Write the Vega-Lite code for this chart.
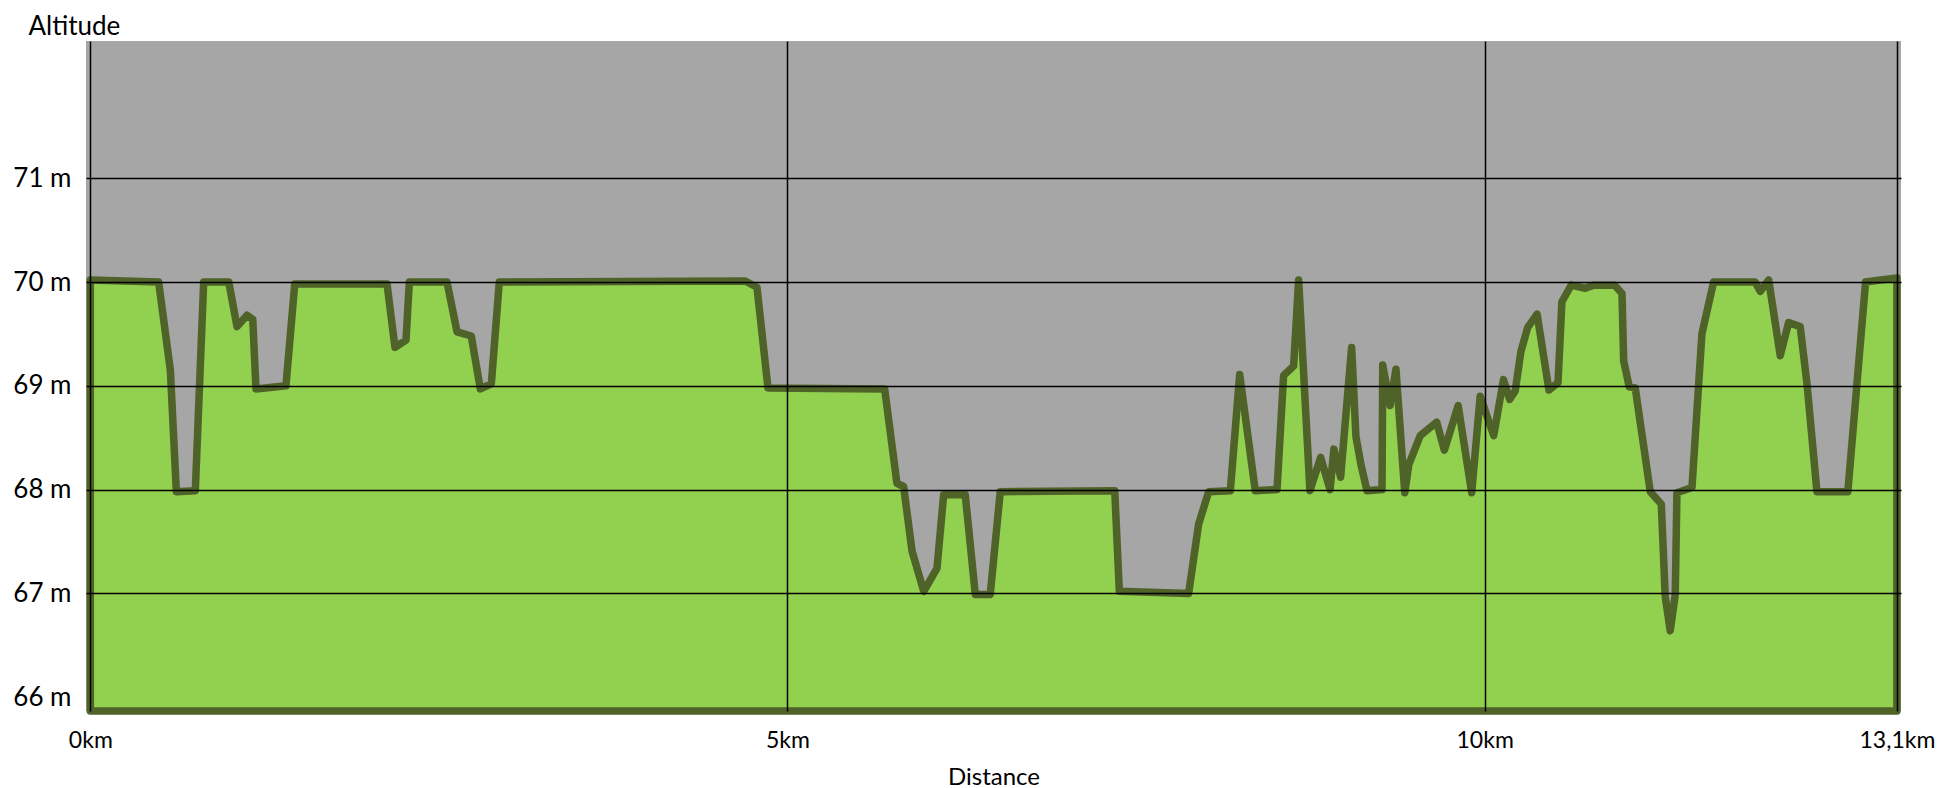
{
  "$schema": "https://vega.github.io/schema/vega-lite/v6.json",
  "autosize": "none",
  "width": 1815,
  "height": 670,
  "padding": {"left": 86, "top": 41, "right": 45, "bottom": 77},
  "background": "#ffffff",
  "config": {
    "font": "Lato",
    "view": {"fill": "#a6a6a6", "stroke": null}
  },
  "data": {
    "values": [
      {"km": 0, "alt": 70.02},
      {"km": 0.49, "alt": 70.0},
      {"km": 0.574, "alt": 69.15},
      {"km": 0.617, "alt": 67.98},
      {"km": 0.753, "alt": 67.99},
      {"km": 0.813, "alt": 70.0},
      {"km": 0.993, "alt": 70.0},
      {"km": 1.052, "alt": 69.57},
      {"km": 1.124, "alt": 69.68},
      {"km": 1.165, "alt": 69.64},
      {"km": 1.188, "alt": 68.97},
      {"km": 1.403, "alt": 69.0},
      {"km": 1.466, "alt": 69.98},
      {"km": 2.128, "alt": 69.98},
      {"km": 2.185, "alt": 69.37},
      {"km": 2.264, "alt": 69.44},
      {"km": 2.288, "alt": 70.0},
      {"km": 2.558, "alt": 70.0},
      {"km": 2.63, "alt": 69.52},
      {"km": 2.732, "alt": 69.48},
      {"km": 2.797, "alt": 68.97},
      {"km": 2.876, "alt": 69.02},
      {"km": 2.933, "alt": 70.0},
      {"km": 4.697, "alt": 70.01},
      {"km": 4.781, "alt": 69.95},
      {"km": 4.86, "alt": 68.98},
      {"km": 5.697, "alt": 68.97},
      {"km": 5.785, "alt": 68.06},
      {"km": 5.833, "alt": 68.03},
      {"km": 5.893, "alt": 67.41},
      {"km": 5.977, "alt": 67.02},
      {"km": 6.072, "alt": 67.24},
      {"km": 6.12, "alt": 67.95},
      {"km": 6.275, "alt": 67.95},
      {"km": 6.347, "alt": 66.99},
      {"km": 6.454, "alt": 66.99},
      {"km": 6.526, "alt": 67.98},
      {"km": 7.347, "alt": 67.99},
      {"km": 7.38, "alt": 67.02},
      {"km": 7.877, "alt": 67.0},
      {"km": 7.949, "alt": 67.67},
      {"km": 8.021, "alt": 67.98},
      {"km": 8.176, "alt": 67.99},
      {"km": 8.243, "alt": 69.11},
      {"km": 8.355, "alt": 67.99},
      {"km": 8.511, "alt": 68.0},
      {"km": 8.558, "alt": 69.1},
      {"km": 8.63, "alt": 69.19},
      {"km": 8.666, "alt": 70.02},
      {"km": 8.747, "alt": 67.99},
      {"km": 8.824, "alt": 68.31},
      {"km": 8.891, "alt": 68.0},
      {"km": 8.919, "alt": 68.39},
      {"km": 8.967, "alt": 68.12},
      {"km": 9.046, "alt": 69.37},
      {"km": 9.077, "alt": 68.51},
      {"km": 9.113, "alt": 68.24},
      {"km": 9.156, "alt": 67.99},
      {"km": 9.264, "alt": 68.0},
      {"km": 9.269, "alt": 69.2},
      {"km": 9.322, "alt": 68.81},
      {"km": 9.364, "alt": 69.16},
      {"km": 9.427, "alt": 67.97},
      {"km": 9.456, "alt": 68.24},
      {"km": 9.538, "alt": 68.52},
      {"km": 9.656, "alt": 68.65},
      {"km": 9.711, "alt": 68.38},
      {"km": 9.81, "alt": 68.81},
      {"km": 9.907, "alt": 67.97},
      {"km": 9.968, "alt": 68.9},
      {"km": 10.065, "alt": 68.52},
      {"km": 10.135, "alt": 69.06},
      {"km": 10.179, "alt": 68.87},
      {"km": 10.219, "alt": 68.95},
      {"km": 10.26, "alt": 69.33},
      {"km": 10.308, "alt": 69.56},
      {"km": 10.376, "alt": 69.69},
      {"km": 10.461, "alt": 68.96},
      {"km": 10.526, "alt": 69.03},
      {"km": 10.554, "alt": 69.81},
      {"km": 10.621, "alt": 69.97},
      {"km": 10.721, "alt": 69.94},
      {"km": 10.782, "alt": 69.97},
      {"km": 10.932, "alt": 69.97},
      {"km": 10.985, "alt": 69.89},
      {"km": 10.997, "alt": 69.24},
      {"km": 11.037, "alt": 68.99},
      {"km": 11.08, "alt": 68.98},
      {"km": 11.188, "alt": 67.98},
      {"km": 11.267, "alt": 67.86},
      {"km": 11.295, "alt": 66.97},
      {"km": 11.331, "alt": 66.64},
      {"km": 11.367, "alt": 66.99},
      {"km": 11.379, "alt": 67.97},
      {"km": 11.487, "alt": 68.02},
      {"km": 11.558, "alt": 69.5},
      {"km": 11.642, "alt": 70.0},
      {"km": 11.94, "alt": 70.0},
      {"km": 11.977, "alt": 69.91},
      {"km": 12.037, "alt": 70.02},
      {"km": 12.12, "alt": 69.29},
      {"km": 12.18, "alt": 69.61},
      {"km": 12.263, "alt": 69.57},
      {"km": 12.311, "alt": 69.03},
      {"km": 12.383, "alt": 67.98},
      {"km": 12.605, "alt": 67.98},
      {"km": 12.682, "alt": 69.21},
      {"km": 12.732, "alt": 70.0},
      {"km": 12.957, "alt": 70.04}
    ]
  },
  "mark": {
    "type": "area",
    "fill": "#92d050",
    "fillOpacity": 1,
    "stroke": "#4f6228",
    "strokeWidth": 7.5,
    "strokeJoin": "round",
    "strokeCap": "round"
  },
  "encoding": {
    "x": {
      "field": "km",
      "type": "quantitative",
      "scale": {"domain": [-0.031, 12.986], "nice": false, "zero": false},
      "axis": {
        "values": [0, 5, 10, 12.957],
        "labelExpr": "datum.value > 12 ? '13,1km' : datum.value + 'km'",
        "domain": false,
        "ticks": false,
        "tickSize": 0,
        "grid": true,
        "gridColor": "#000000",
        "gridWidth": 1.5,
        "gridOpacity": 1,
        "zindex": 1,
        "labelFontSize": 23,
        "labelColor": "#000000",
        "labelBaseline": "alphabetic",
        "labelPadding": 36,
        "labelOverlap": false,
        "labelFlush": false,
        "title": "Distance",
        "titleFontSize": 24,
        "titleFontWeight": "normal",
        "titleColor": "#000000",
        "titleBaseline": "alphabetic",
        "titleY": 73
      }
    },
    "y": {
      "field": "alt",
      "type": "quantitative",
      "scale": {"domain": [65.867, 72.322], "nice": false, "zero": false},
      "axis": {
        "values": [66, 67, 68, 69, 70, 71],
        "labelExpr": "datum.value + ' m'",
        "domain": false,
        "ticks": false,
        "tickSize": 0,
        "grid": true,
        "gridColor": {"condition": {"test": "datum.value == 66", "value": "transparent"}, "value": "#000000"},
        "gridWidth": 1.5,
        "gridOpacity": 1,
        "zindex": 1,
        "labelFontSize": 26,
        "labelColor": "#000000",
        "labelBaseline": "middle",
        "labelPadding": 15,
        "labelOverlap": false,
        "labelFlush": false,
        "title": "Altitude",
        "titleFontSize": 26,
        "titleFontWeight": "normal",
        "titleColor": "#000000",
        "titleAngle": 0,
        "titleAlign": "left",
        "titleBaseline": "alphabetic",
        "titleX": -58,
        "titleY": -7
      }
    },
    "y2": {"datum": 65.867}
  }
}
